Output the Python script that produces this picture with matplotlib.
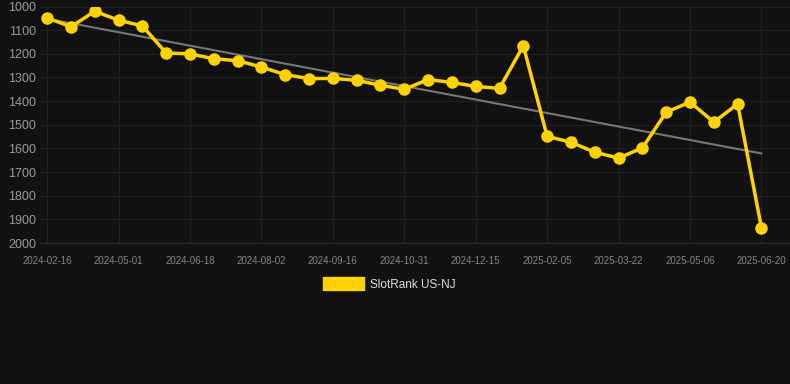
import numpy as np
import matplotlib
matplotlib.use("Agg")
import matplotlib.pyplot as plt
from matplotlib.patches import Patch

plt.rcParams['font.family'] = ['Liberation Sans', 'DejaVu Sans']

# rank values per snapshot (lower rank number = better)
ranks = [1048, 1086, 1020, 1058, 1082, 1197, 1200, 1221, 1229, 1256,
         1288, 1305, 1304, 1312, 1333, 1350, 1309, 1321, 1338, 1346,
         1166, 1549, 1574, 1616, 1641, 1598, 1447, 1404, 1489, 1412,
         1935]
tick_labels = ['2024-02-16', '2024-05-01', '2024-06-18', '2024-08-02',
               '2024-09-16', '2024-10-31', '2024-12-15', '2025-02-05',
               '2025-03-22', '2025-05-06', '2025-06-20']
series_name = 'SlotRank US-NJ'

bg = '#111111'
gold = '#FFD200'

x = np.arange(len(ranks))
y = np.array(ranks)

fig = plt.figure(figsize=(7.9, 3.84), dpi=100, facecolor=bg)
ax = fig.add_axes([40 / 790, 141 / 384, 750 / 790, 236.5 / 384])
ax.set_facecolor(bg)

# trend line (least squares)
k, b = np.polyfit(x, y, 1)
ax.plot(x, k * x + b, color='#777777', lw=1.5, zorder=2)

ax.plot(x, y, color=gold, lw=2.5, marker='o', ms=8, zorder=3)

ax.set_ylim(2000, 1000)
ax.set_yticks(np.arange(1000, 2001, 100))
ax.set_xlim(-0.3, 31.2)
ax.set_xticks(x[::3])
ax.set_xticklabels(tick_labels)

ax.grid(True, color='#202020', lw=0.8)
for s in ['top', 'right', 'left']:
    ax.spines[s].set_visible(False)
ax.spines['bottom'].set_color('#2e2e2e')
ax.tick_params(axis='y', length=0, labelsize=9, colors='#9a9a9a', pad=3)
ax.tick_params(axis='x', length=0, labelsize=7, colors='#858585', pad=9)

fig.legend(handles=[Patch(color=gold, label=series_name)],
           loc='center', bbox_to_anchor=(389.5 / 790, 1 - 284 / 384), frameon=False,
           labelcolor='#dddddd', fontsize=8.5, handlelength=3.4,
           handleheight=1.35, handletextpad=0.55)

fig.savefig('out.png', dpi=100, facecolor=bg)
